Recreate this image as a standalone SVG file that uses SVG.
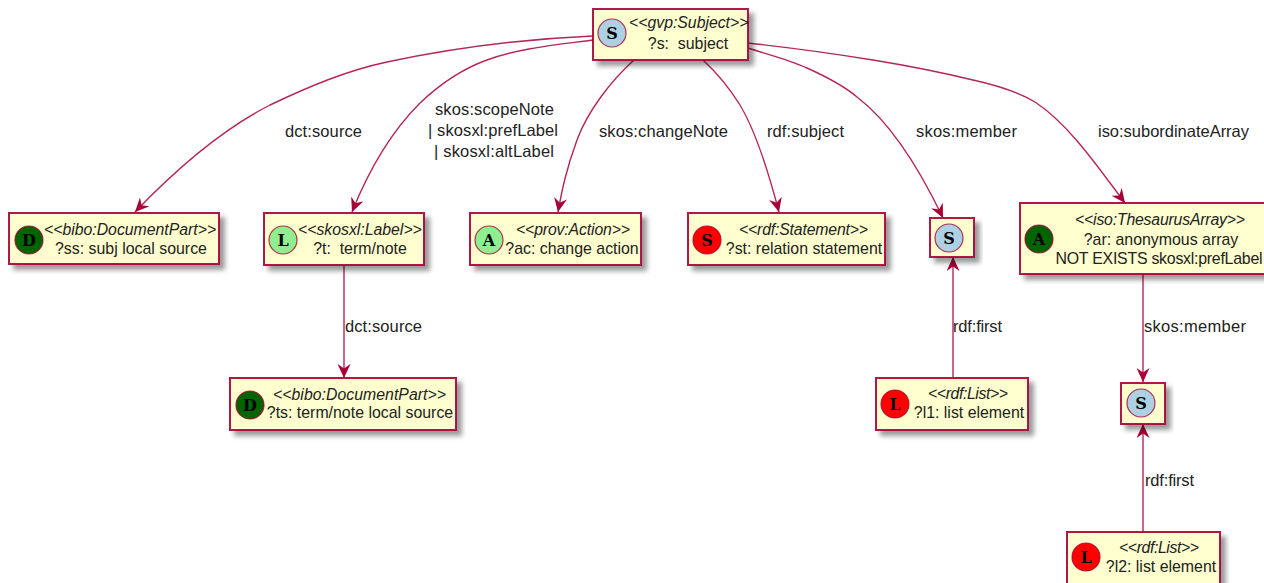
<svg xmlns="http://www.w3.org/2000/svg" width="1264" height="583" viewBox="0 0 1264 583">
<style>
text{font-family:"Liberation Sans",Arial,sans-serif;font-size:16.5px;fill:#222}
.b{font-size:15.9px}
.c{text-anchor:middle}
.st{font-style:italic;font-size:15.8px}
.box{fill:#FEFECE;stroke:#A80036;stroke-width:2;stroke-opacity:.9;filter:url(#sh)}
.edge{fill:none;stroke:#A80036;stroke-width:1.4;stroke-opacity:.85;marker-end:url(#arr)}
.circ{stroke:#A80036;stroke-width:1.2;stroke-opacity:.8}
.g{font-family:"DejaVu Serif",serif;font-weight:bold;font-size:16px;fill:#000;text-anchor:middle}
</style>
<defs>
<filter id="sh" x="-20%" y="-30%" width="140%" height="170%"><feDropShadow dx="5" dy="5" stdDeviation="2.5" flood-color="#000" flood-opacity="0.4"/></filter>
<marker id="arr" viewBox="0 0 15 13" refX="14" refY="6.5" markerWidth="15" markerHeight="13" markerUnits="userSpaceOnUse" orient="auto"><path d="M0 0L14 6.5L0 13L4.5 6.5Z" fill="#A80036"/></marker>
</defs>
<rect width="1264" height="583" fill="#fff"/>
<g id="connectors">
<path class="edge" d="M593 36C524 39 455 47.5 387 62C346 70.7 308 87 270 105C225 128 180 165 135 212"/>
<path class="edge" d="M593 40C555 45 520 48 487 60C462 69 440 84 420 103C390 133 368 172 352 212"/>
<path class="edge" d="M634 60C612 80 588 110 577 140C566 170 562 190 558 212"/>
<path class="edge" d="M703 60C717 73 730 89 740 105C755 130 768 170 779 212"/>
<path class="edge" d="M748 48C767.6 54.4 788.2 59.5 807 68C824.6 75.9 842.3 84.5 857 97C890 122 920 170 943 218"/>
<path class="edge" d="M748 43C789.7 47.6 831.5 53.2 873 60C906.6 65.5 940 72 973 80C1000 86 1020 93 1035 102C1070 125 1100 170 1125 203"/>
<path class="edge" d="M344 265V378"/>
<path class="edge" d="M953 378V257"/>
<path class="edge" d="M1143 274V382"/>
<path class="edge" d="M1143 532V424"/>
</g>
<g id="labels">
<text x="285" y="137" textLength="77">dct:source</text>
<text x="435" y="115" textLength="119">skos:scopeNote</text>
<text x="428" y="136" textLength="130">| skosxl:prefLabel</text>
<text x="434" y="157" textLength="120">| skosxl:altLabel</text>
<text x="599" y="137" textLength="129">skos:changeNote</text>
<text x="767" y="137" textLength="77">rdf:subject</text>
<text x="916" y="137" textLength="101">skos:member</text>
<text x="1098" y="137" textLength="151">iso:subordinateArray</text>
<text x="345" y="332" textLength="77">dct:source</text>
<text x="953" y="332" textLength="49">rdf:first</text>
<text x="1144" y="332" textLength="102">skos:member</text>
<text x="1145" y="486" textLength="49">rdf:first</text>
</g>
<g id="n-s"><rect class="box" x="593" y="9" width="155" height="51"/><circle class="circ" cx="612" cy="33" r="14" fill="#ADD1E3"/><text class="g" x="612" y="39">S</text><text class="st" x="629" y="28">&lt;&lt;gvp:Subject&gt;&gt;</text><text class="c b" x="688" y="49">?s:&#160; subject</text></g>
<g id="n-ss"><rect class="box" x="9" y="213" width="210" height="51"/><circle class="circ" cx="29" cy="240" r="14" fill="#006400"/><text class="g" x="29" y="246">D</text><text class="st" x="44" y="235">&lt;&lt;bibo:DocumentPart&gt;&gt;</text><text class="c b" x="131" y="254">?ss: subj local source</text></g>
<g id="n-t"><rect class="box" x="264" y="213" width="160" height="52"/><circle class="circ" cx="283" cy="240" r="14" fill="#90EE90"/><text class="g" x="283" y="246">L</text><text class="st" x="298" y="235">&lt;&lt;skosxl:Label&gt;&gt;</text><text class="c b" x="360" y="254">?t:&#160; term/note</text></g>
<g id="n-ac"><rect class="box" x="470" y="213" width="171" height="52"/><circle class="circ" cx="489" cy="240" r="14" fill="#90EE90"/><text class="g" x="489" y="246">A</text><text class="st" x="516" y="235" textLength="114">&lt;&lt;prov:Action&gt;&gt;</text><text class="c b" x="572" y="254">?ac: change action</text></g>
<g id="n-st"><rect class="box" x="688" y="213" width="197" height="52"/><circle class="circ" cx="707" cy="240" r="14" fill="#FF0000"/><text class="g" x="707" y="246">S</text><text class="st" x="739" y="235" textLength="129">&lt;&lt;rdf:Statement&gt;&gt;</text><text class="c b" x="804" y="254">?st: relation statement</text></g>
<g id="n-s2"><rect class="box" x="930" y="218" width="44" height="39"/><circle class="circ" cx="949" cy="238" r="14" fill="#ADD1E3"/><text class="g" x="949" y="244">S</text></g>
<g id="n-ar"><rect class="box" x="1020" y="203" width="260" height="71"/><circle class="circ" cx="1039" cy="239" r="14" fill="#006400"/><text class="g" x="1039" y="245">A</text><text class="st" x="1075" y="225" textLength="170">&lt;&lt;iso:ThesaurusArray&gt;&gt;</text><text class="c b" x="1161" y="245">?ar: anonymous array</text><text class="c b" x="1159" y="264" textLength="207">NOT EXISTS skosxl:prefLabel</text></g>
<g id="n-ts"><rect class="box" x="230" y="378" width="226" height="52"/><circle class="circ" cx="250" cy="405" r="14" fill="#006400"/><text class="g" x="250" y="411">D</text><text class="st" x="273" y="400" textLength="173">&lt;&lt;bibo:DocumentPart&gt;&gt;</text><text class="c b" x="360" y="418">?ts: term/note local source</text></g>
<g id="n-l1"><rect class="box" x="876" y="378" width="152" height="52"/><circle class="circ" cx="895" cy="404" r="14" fill="#FF0000"/><text class="g" x="895" y="410" textLength="11" lengthAdjust="spacingAndGlyphs">L</text><text class="st" x="928" y="399" textLength="80">&lt;&lt;rdf:List&gt;&gt;</text><text class="c b" x="969" y="418">?l1: list element</text></g>
<g id="n-s3"><rect class="box" x="1121" y="383" width="44" height="41"/><circle class="circ" cx="1141" cy="403" r="14" fill="#ADD1E3"/><text class="g" x="1141" y="409">S</text></g>
<g id="n-l2"><rect class="box" x="1067" y="532" width="153" height="60"/><circle class="circ" cx="1086" cy="557" r="14" fill="#FF0000"/><text class="g" x="1086" y="563">L</text><text class="st" x="1119" y="553" textLength="80">&lt;&lt;rdf:List&gt;&gt;</text><text class="c b" x="1161" y="572">?l2: list element</text></g>
</svg>
